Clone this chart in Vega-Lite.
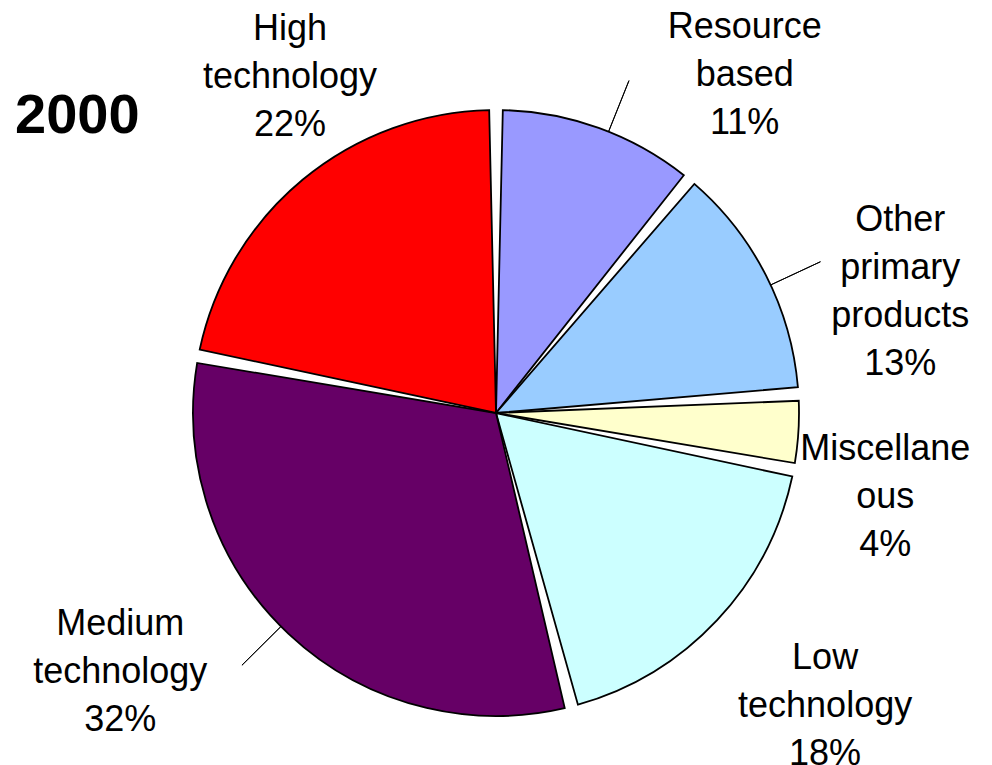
{
  "$schema": "https://vega.github.io/schema/vega-lite/v6.json",
  "width": 992,
  "height": 720,
  "autosize": {"type": "none"},
  "padding": {"top": 53, "left": 0, "right": 0, "bottom": 0},
  "background": "white",
  "title": {
    "text": "2000",
    "anchor": "start",
    "frame": "group",
    "orient": "top",
    "font": "Liberation Sans",
    "fontSize": 56,
    "fontWeight": "bold",
    "color": "black",
    "baseline": "alphabetic",
    "offset": 0,
    "dx": 15,
    "dy": 180
  },
  "config": {
    "view": {"stroke": null},
    "text": {"font": "Liberation Sans", "fontSize": 36, "lineHeight": 48, "lineBreak": "\n", "color": "black", "align": "center", "baseline": "middle"}
  },
  "data": {
    "values": [
      {"category": "Resource based", "label": "Resource\nbased\n11%", "value": 11, "order": 1},
      {"category": "Other primary products", "label": "Other\nprimary\nproducts\n13%", "value": 13, "order": 2},
      {"category": "Miscellaneous", "label": "Miscellane\nous\n4%", "value": 4, "order": 3},
      {"category": "Low technology", "label": "Low\ntechnology\n18%", "value": 18, "order": 4},
      {"category": "Medium technology", "label": "Medium\ntechnology\n32%", "value": 32, "order": 5},
      {"category": "High technology", "label": "High\ntechnology\n22%", "value": 22, "order": 6}
    ]
  },
  "transform": [
    {"stack": "value", "groupby": [], "sort": [{"field": "order", "order": "ascending"}], "as": ["v0", "v1"]},
    {"calculate": "(datum.v0 + datum.v1) / 2", "as": "mid"}
  ],
  "layer": [
    {
      "mark": {"type": "arc", "outerRadius": 303, "padAngle": 0.045, "stroke": "black", "strokeWidth": 1.8},
      "encoding": {
        "theta": {"field": "v0", "type": "quantitative", "scale": {"domain": [0, 100]}},
        "theta2": {"field": "v1"},
        "color": {
          "field": "category",
          "type": "nominal",
          "scale": {
            "domain": ["Resource based", "Other primary products", "Miscellaneous", "Low technology", "Medium technology", "High technology"],
            "range": ["#9999FF", "#99CCFF", "#FFFFCC", "#CCFFFF", "#660066", "#FF0000"]
          },
          "legend": null
        }
      }
    },
    {
      "transform": [{"filter": "datum.category === 'Resource based' || datum.category === 'Other primary products' || datum.category === 'Medium technology'"}],
      "mark": {"type": "arc", "radius": 358, "radius2": 303, "thetaOffset": 0.035, "theta2Offset": 0.035, "fill": null, "stroke": "black", "strokeWidth": 1},
      "encoding": {
        "theta": {"field": "mid", "type": "quantitative"},
        "theta2": {"field": "mid"}
      }
    },
    {
      "transform": [{"filter": "datum.category === 'High technology'"}],
      "mark": {"type": "text", "radius": 436, "thetaOffset": 0.199},
      "encoding": {"theta": {"field": "mid", "type": "quantitative"}, "text": {"field": "label"}}
    },
    {
      "transform": [{"filter": "datum.category === 'Resource based'"}],
      "mark": {"type": "text", "radius": 459, "thetaOffset": 0.227},
      "encoding": {"theta": {"field": "mid", "type": "quantitative"}, "text": {"field": "label"}}
    },
    {
      "transform": [{"filter": "datum.category === 'Other primary products'"}],
      "mark": {"type": "text", "radius": 448, "thetaOffset": 0.026},
      "encoding": {"theta": {"field": "mid", "type": "quantitative"}, "text": {"field": "label"}}
    },
    {
      "transform": [{"filter": "datum.category === 'Miscellaneous'"}],
      "mark": {"type": "text", "radius": 391, "thetaOffset": 0.03},
      "encoding": {"theta": {"field": "mid", "type": "quantitative"}, "text": {"field": "label"}}
    },
    {
      "transform": [{"filter": "datum.category === 'Low technology'"}],
      "mark": {"type": "text", "radius": 410, "thetaOffset": -0.115},
      "encoding": {"theta": {"field": "mid", "type": "quantitative"}, "text": {"field": "label"}}
    },
    {
      "transform": [{"filter": "datum.category === 'Medium technology'"}],
      "mark": {"type": "text", "radius": 431, "thetaOffset": 0.305},
      "encoding": {"theta": {"field": "mid", "type": "quantitative"}, "text": {"field": "label"}}
    }
  ]
}
